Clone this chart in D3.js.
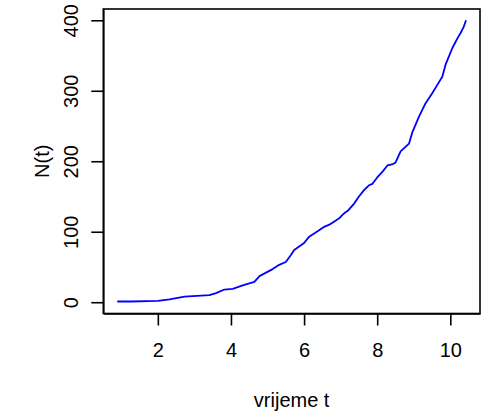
<!DOCTYPE html>
<html>
<head>
<meta charset="utf-8">
<script src="https://cdn.jsdelivr.net/npm/d3@7"></script>
<style>
  html, body { margin: 0; padding: 0; background: #fff; }
  svg text { font-family: "Liberation Sans", Arial, Helvetica, sans-serif; fill: #000; }
</style>
</head>
<body>
<svg id="chart" width="484" height="414"></svg>
<script>
// Data (counting process N(t))
const timeValues = [0.89, 1.27, 2.00, 2.32, 2.73, 3.41, 3.59, 3.82, 4.05, 4.32, 4.64, 4.78,
  5.14, 5.32, 5.50, 5.64, 5.73, 6.00, 6.14, 6.41, 6.55, 6.69, 6.87, 6.96, 7.05, 7.14, 7.18, 7.37,
  7.50, 7.64, 7.78, 7.87, 8.00, 8.14, 8.28, 8.43, 8.50, 8.64, 8.87, 8.96, 9.14, 9.32,
  9.50, 9.64, 9.78, 9.87, 10.05, 10.19, 10.28, 10.36, 10.43];
const countValues = [1, 1, 2, 4, 8, 10, 13, 18, 19, 24, 29, 37,
  47, 53, 57, 67, 74, 84, 93, 102, 107, 110, 116, 119, 124, 128, 129, 140,
  150, 159, 166, 168, 177, 185, 194, 196, 198, 214, 225, 241, 263, 282,
  296, 308, 320, 337, 360, 374, 382, 390, 400];
const xTicks = [2, 4, 6, 8, 10];
const yTicks = [0, 100, 200, 300, 400];
const xLabel = "vrijeme t";
const yLabel = "N(t)";

const svg = d3.select("#chart");
const box = { left: 103.3, right: 480, top: 9, bottom: 313.5 };

const xMin = d3.min(timeValues), xMax = d3.max(timeValues);
const xPad = (xMax - xMin) * 0.04;
const x = d3.scaleLinear().domain([xMin - xPad, xMax + xPad]).range([box.left, box.right]);
const yMin = 0, yMax = 400;
const yPad = (yMax - yMin) * 0.04;
const y = d3.scaleLinear().domain([yMin - yPad, yMax + yPad]).range([box.bottom, box.top]);

const pts = timeValues.map((t, i) => [t, countValues[i]]);

// line
svg.append("path")
  .datum(pts)
  .attr("fill", "none")
  .attr("stroke", "#0000FF")
  .attr("stroke-width", 1.8)
  .attr("stroke-linejoin", "round")
  .attr("d", d3.line().x(d => x(d[0])).y(d => y(d[1])).curve(d3.curveLinear));

// box
svg.append("rect")
  .attr("x", box.left).attr("y", box.top)
  .attr("width", box.right - box.left).attr("height", box.bottom - box.top)
  .attr("fill", "none").attr("stroke", "#000").attr("stroke-width", 1.6);

// axes
const xAxis = d3.axisBottom(x).tickValues(xTicks).tickSizeInner(12).tickSizeOuter(0).tickPadding(17).tickFormat(d3.format("d"));
const gx = svg.append("g").attr("transform", `translate(0,${box.bottom})`).call(xAxis);
gx.select(".domain").attr("stroke-width", 1.6);
gx.selectAll(".tick line").attr("stroke-width", 1.6);
gx.selectAll(".tick text").attr("font-size", 20).attr("dy", null).attr("y", 43);

const yAxis = d3.axisLeft(y).tickValues(yTicks).tickSizeInner(12).tickSizeOuter(0).tickFormat(d3.format("d"));
const gy = svg.append("g").attr("transform", `translate(${box.left},0)`).call(yAxis);
gy.select(".domain").attr("stroke-width", 1.6);
gy.selectAll(".tick line").attr("stroke-width", 1.6);
gy.selectAll(".tick text")
  .attr("font-size", 20)
  .attr("x", null).attr("dy", null)
  .attr("text-anchor", "middle")
  .attr("transform", `translate(${77.5 - box.left},0) rotate(-90)`);

// axis titles
svg.append("text")
  .attr("x", (box.left + box.right) / 2).attr("y", 406.5)
  .attr("text-anchor", "middle").attr("font-size", 20)
  .text(xLabel);
svg.append("text")
  .attr("transform", `translate(49,${(box.top + box.bottom) / 2}) rotate(-90)`)
  .attr("text-anchor", "middle").attr("font-size", 20)
  .text(yLabel);
</script>
</body>
</html>
